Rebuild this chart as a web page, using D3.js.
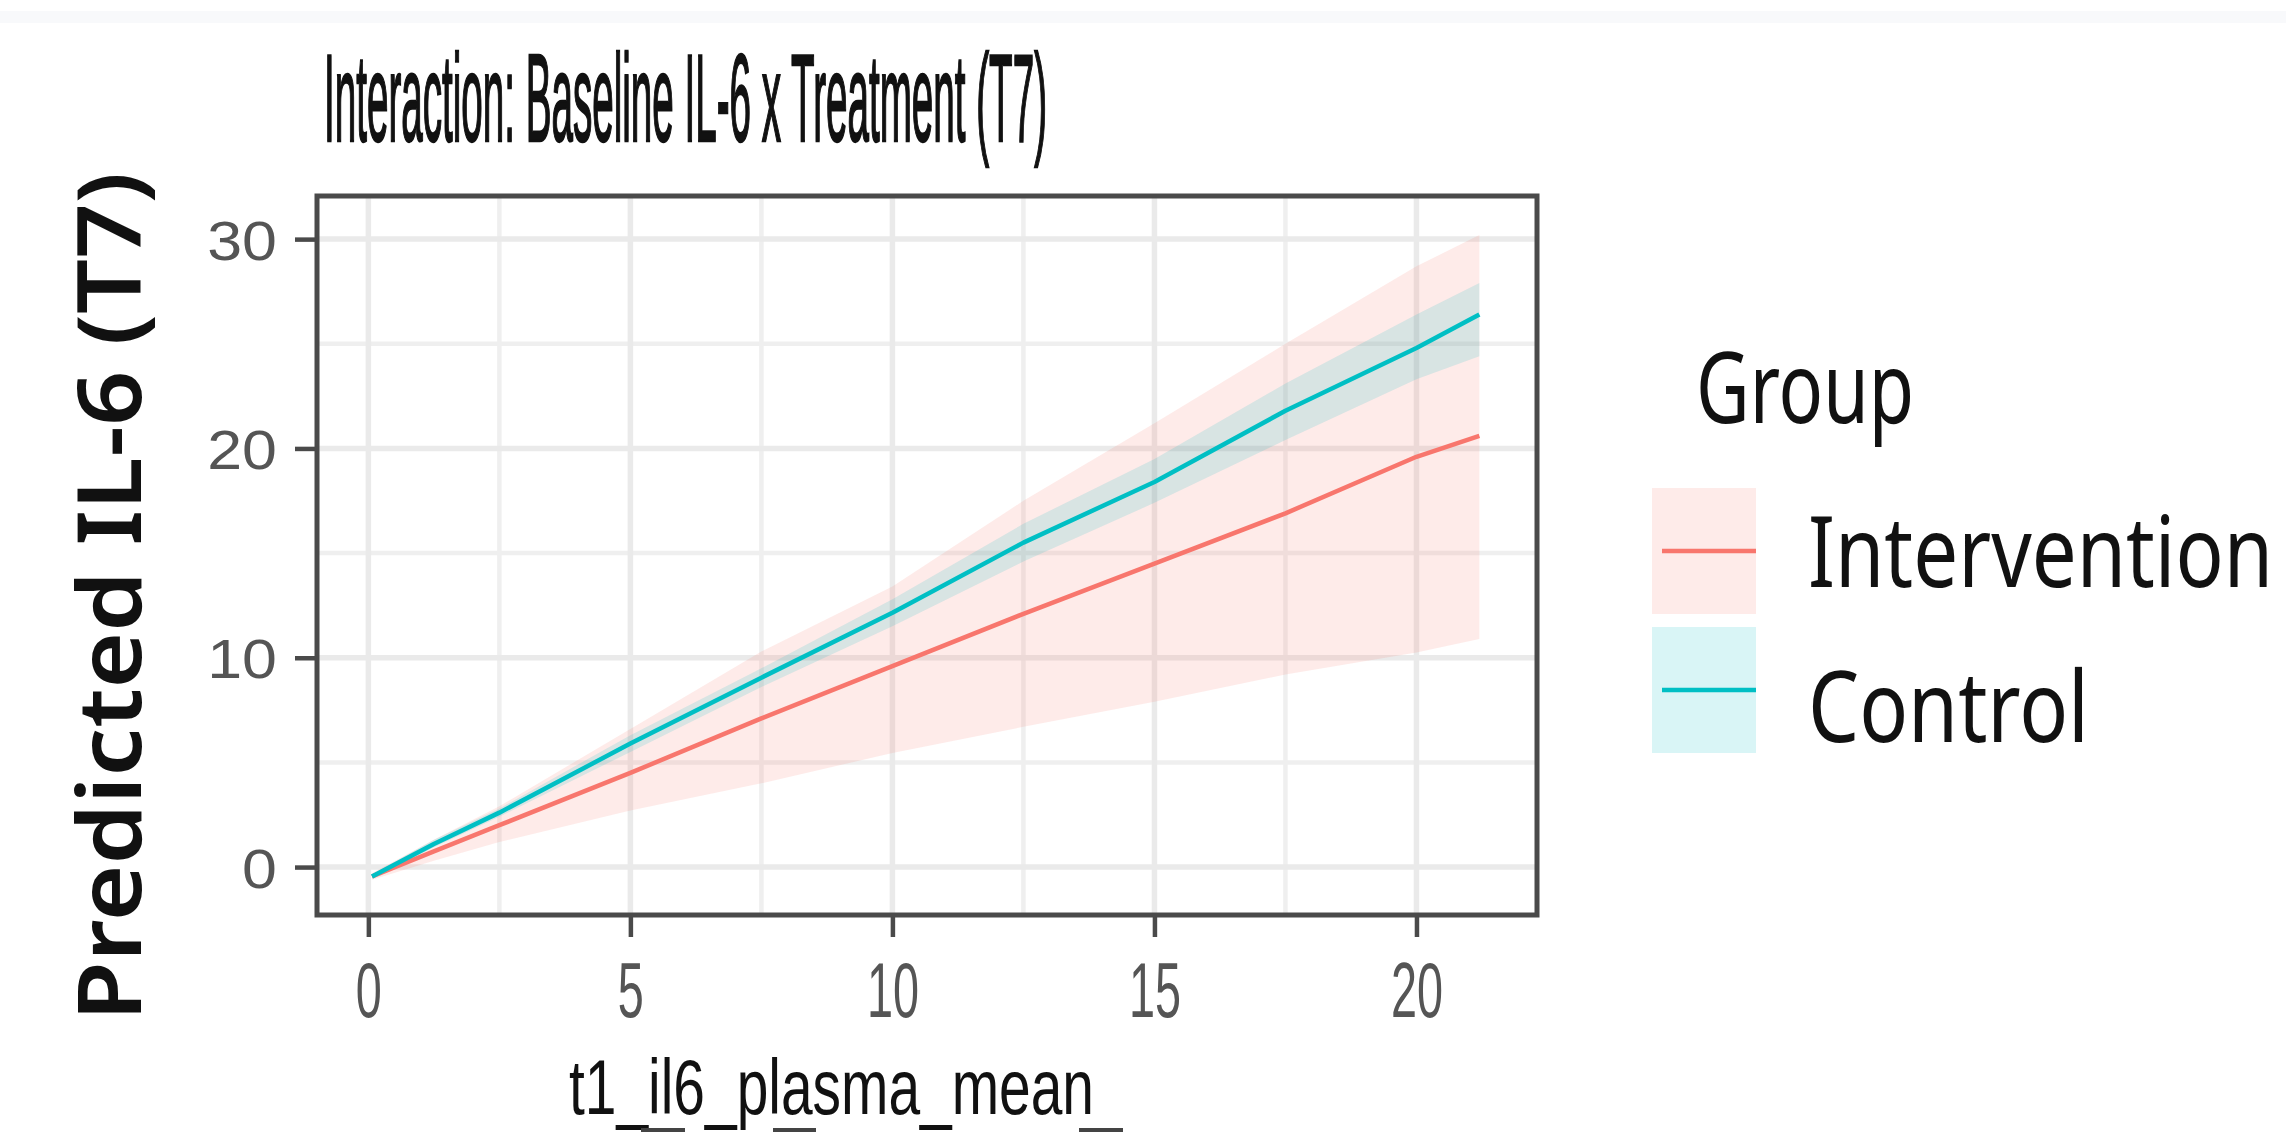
<!DOCTYPE html>
<html>
<head>
<meta charset="utf-8">
<script src="https://cdn.jsdelivr.net/npm/d3@7"></script>
<style>
  html, body { margin: 0; padding: 0; background: #fff; }
  svg { display: block; }
</style>
</head>
<body>
<svg id="chart" width="2286" height="1132"></svg>
<script>
// ---- data ----
const groups = ["Intervention", "Control"];
const groupColors = ["#F8766D", "#00BFC4"];
const xValues = [0.07, 1.25, 2.5, 5, 7.5, 10, 12.5, 15, 17.5, 20, 21.2];
const interventionFit = [-0.45, 0.75, 2.0, 4.5, 7.1, 9.6, 12.1, 14.5, 16.9, 19.6, 20.6];
const interventionLow = [-0.6, 0.3, 1.2, 2.7, 4.0, 5.45, 6.7, 7.9, 9.2, 10.25, 10.9];
const interventionHigh = [-0.3, 1.3, 2.9, 6.6, 10.3, 13.4, 17.5, 21.2, 25.0, 28.7, 30.2];
const controlFit = [-0.45, 1.1, 2.6, 5.9, 9.05, 12.15, 15.5, 18.4, 21.8, 24.8, 26.4];
const controlLow = [-0.55, 0.95, 2.4, 5.5, 8.6, 11.5, 14.6, 17.4, 20.4, 23.3, 24.4];
const controlHigh = [-0.35, 1.3, 2.8, 6.3, 9.5, 12.8, 16.4, 19.5, 23.1, 26.4, 27.9];
const xTicks = [0, 5, 10, 15, 20];
const xMinor = [2.5, 7.5, 12.5, 17.5];
const yTicks = [0, 10, 20, 30];
const yMinor = [5, 15, 25];
const titleText = "Interaction: Baseline IL-6 x Treatment (T7)";
const xTitle = "t1_il6_plasma_mean";
const yTitle = "Predicted IL-6 (T7)";
const legendTitle = "Group";

const series = [
  {name: groups[0], color: groupColors[0], fit: interventionFit, lo: interventionLow, hi: interventionHigh},
  {name: groups[1], color: groupColors[1], fit: controlFit, lo: controlLow, hi: controlHigh}
];

// ---- layout ----
const panel = {left: 317, right: 1537, top: 196, bottom: 915};
const svg = d3.select("#chart");

// faint top band artifact
svg.append("rect").attr("x", 0).attr("y", 11).attr("width", 2286).attr("height", 12).attr("fill", "#F8F9FB");

const x = d3.scaleLinear().domain([-0.98, 22.3]).range([panel.left, panel.right]);
const y = d3.scaleLinear().domain([-2.29, 32.06]).range([panel.bottom, panel.top]);

const g = svg.append("g");

// grid
g.selectAll(".vminor").data(xMinor).join("line")
  .attr("x1", d => x(d)).attr("x2", d => x(d)).attr("y1", panel.top).attr("y2", panel.bottom)
  .attr("stroke", "#EFEFEF").attr("stroke-width", 4.5);
g.selectAll(".hminor").data(yMinor).join("line")
  .attr("y1", d => y(d)).attr("y2", d => y(d)).attr("x1", panel.left).attr("x2", panel.right)
  .attr("stroke", "#EFEFEF").attr("stroke-width", 4.5);
g.selectAll(".vmajor").data(xTicks).join("line")
  .attr("x1", d => x(d)).attr("x2", d => x(d)).attr("y1", panel.top).attr("y2", panel.bottom)
  .attr("stroke", "#EAEAEA").attr("stroke-width", 5.5);
g.selectAll(".hmajor").data(yTicks).join("line")
  .attr("y1", d => y(d)).attr("y2", d => y(d)).attr("x1", panel.left).attr("x2", panel.right)
  .attr("stroke", "#EAEAEA").attr("stroke-width", 5.5);

// ribbons
const area = d3.area()
  .x((d, i) => x(xValues[i]))
  .y0(d => y(d.lo)).y1(d => y(d.hi));
series.forEach(s => {
  const pts = xValues.map((v, i) => ({lo: s.lo[i], hi: s.hi[i]}));
  g.append("path").datum(pts).attr("d", area)
    .attr("fill", s.color).attr("fill-opacity", 0.15);
});
// lines
const line = d3.line().x((d, i) => x(xValues[i])).y(d => y(d));
series.forEach(s => {
  g.append("path").datum(s.fit).attr("d", line)
    .attr("fill", "none").attr("stroke", s.color).attr("stroke-width", 4.5)
    .attr("stroke-linejoin", "round");
});

// panel border
g.append("rect").attr("x", panel.left).attr("y", panel.top)
  .attr("width", panel.right - panel.left).attr("height", panel.bottom - panel.top)
  .attr("fill", "none").attr("stroke", "#4A4A4A").attr("stroke-width", 5);

// axes
const xAxis = d3.axisBottom(x).tickValues(xTicks).tickSize(22).tickSizeOuter(0);
const xg = svg.append("g").attr("transform", `translate(0,${panel.bottom})`).call(xAxis);
xg.select(".domain").remove();
xg.selectAll(".tick line").attr("stroke", "#4A4A4A").attr("stroke-width", 4.5);
xg.selectAll(".tick text")
  .attr("y", 0).attr("dy", 0)
  .attr("transform", "translate(0,102) scale(0.6,1)")
  .attr("font-family", "Liberation Sans, Arial, sans-serif")
  .attr("font-size", 78).attr("fill", "#555");

const yAxis = d3.axisLeft(y).tickValues(yTicks).tickSize(22).tickSizeOuter(0);
const yg = svg.append("g").attr("transform", `translate(${panel.left},0)`).call(yAxis);
yg.select(".domain").remove();
yg.selectAll(".tick line").attr("stroke", "#4A4A4A").attr("stroke-width", 4.5);
yg.selectAll(".tick text")
  .attr("x", 0).attr("dy", "0.36em")
  .attr("transform", "translate(-40,0) scale(1.12,1)")
  .attr("font-family", "Liberation Sans, Arial, sans-serif")
  .attr("font-size", 56).attr("fill", "#555");

// title
svg.append("text").attr("x", 324).attr("y", 141)
  .attr("font-family", "Liberation Sans, Arial, sans-serif").attr("font-size", 124)
  .attr("textLength", 723).attr("lengthAdjust", "spacingAndGlyphs")
  .attr("fill", "#111").attr("stroke", "#111").attr("stroke-width", 2.4)
  .text(titleText);

// x title
svg.append("text").attr("x", 569).attr("y", 1114)
  .attr("font-family", "Liberation Sans, Arial, sans-serif").attr("font-size", 78)
  .attr("textLength", 525).attr("lengthAdjust", "spacingAndGlyphs")
  .attr("fill", "#111").text(xTitle);

// cut-off glyph tops at the bottom edge of the reference
const bottomBits = [[641, 44], [773, 43], [1079, 44]];
svg.selectAll(".bit").data(bottomBits).join("rect")
  .attr("x", d => d[0]).attr("y", 1128).attr("width", d => d[1]).attr("height", 4)
  .attr("fill", "#444");

// y title
svg.append("text")
  .attr("transform", "translate(141,1021) rotate(-90)")
  .attr("font-family", "Noto Sans, Open Sans, sans-serif").attr("font-weight", 600).attr("font-size", 88)
  .attr("textLength", 849).attr("lengthAdjust", "spacingAndGlyphs")
  .attr("fill", "#111").text(yTitle);

// legend
const leg = svg.append("g");
leg.append("text").attr("x", 1696).attr("y", 423)
  .attr("font-family", "Noto Sans, Open Sans, sans-serif").attr("font-size", 98)
  .attr("textLength", 218).attr("lengthAdjust", "spacingAndGlyphs")
  .attr("fill", "#111").text(legendTitle);
const keyTops = [488, 627];
const labelBase = [587, 742];
const labelLen = [465, 281];
series.forEach((s, i) => {
  leg.append("rect").attr("x", 1652).attr("y", keyTops[i]).attr("width", 104).attr("height", 126)
    .attr("fill", s.color).attr("fill-opacity", 0.15);
  leg.append("line").attr("x1", 1662).attr("x2", 1756)
    .attr("y1", keyTops[i] + 63).attr("y2", keyTops[i] + 63)
    .attr("stroke", s.color).attr("stroke-width", 4.5);
  leg.append("text").attr("x", 1808).attr("y", labelBase[i])
    .attr("font-family", "Noto Sans, Open Sans, sans-serif").attr("font-size", 98)
    .attr("textLength", labelLen[i]).attr("lengthAdjust", "spacingAndGlyphs")
    .attr("fill", "#111").text(s.name);
});
</script>
</body>
</html>
